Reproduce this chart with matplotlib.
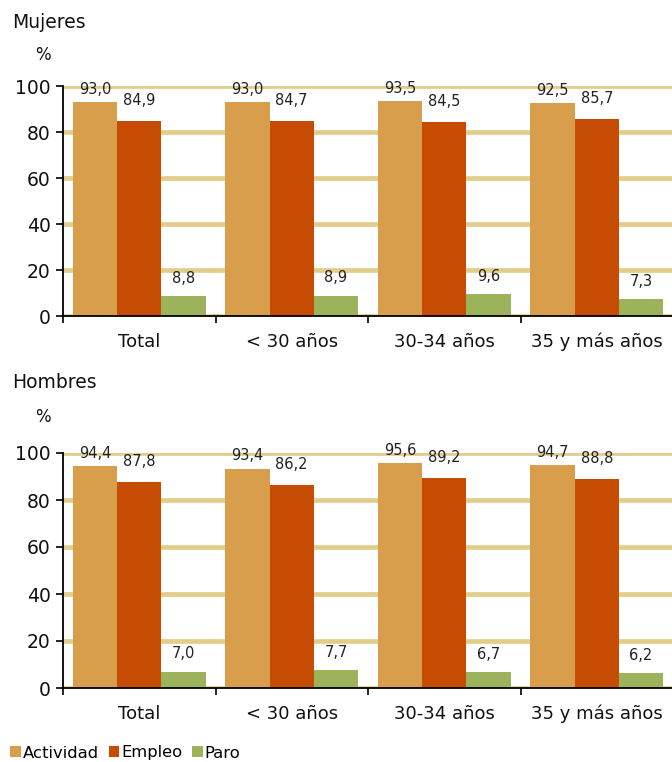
import matplotlib
matplotlib.use("Agg")
import matplotlib.pyplot as plt
import numpy as np

categories = ["Total", "< 30 años", "30-34 años", "35 y más años"]
series = ["Actividad", "Empleo", "Paro"]
mujeres_actividad = [93.0, 93.0, 93.5, 92.5]
mujeres_empleo = [84.9, 84.7, 84.5, 85.7]
mujeres_paro = [8.8, 8.9, 9.6, 7.3]
hombres_actividad = [94.4, 93.4, 95.6, 94.7]
hombres_empleo = [87.8, 86.2, 89.2, 88.8]
hombres_paro = [7.0, 7.7, 6.7, 6.2]
yticks = [0, 20, 40, 60, 80, 100]

colors = ["#D99E4B", "#C64B03", "#9CB25B"]
grid_color = "#E2CD8A"
label_offsets = [5.8, 11.5, 9.4]  # points above bar top (baseline)

plt.rcParams["font.family"] = ["DejaVu Sans"]

fig = plt.figure(figsize=(6.72, 7.62), dpi=100)

W, H = 672, 762
def axrect(left_px, top_px, right_px, bottom_px):
    return [left_px / W, 1 - bottom_px / H, (right_px - left_px) / W, (bottom_px - top_px) / H]

ax1 = fig.add_axes(axrect(63, 86, 673, 316))
ax2 = fig.add_axes(axrect(63, 453, 673, 688))

def fmt(v):
    return f"{v:.1f}".replace(".", ",")

def draw(ax, data):
    x = np.arange(len(categories))
    w = 0.29
    for i, (vals, c) in enumerate(zip(data, colors)):
        pos = x + (i - 1) * w
        bars = ax.bar(pos, vals, width=w, color=c, zorder=2, label=series[i])
        for b, v in zip(bars, vals):
            ax.annotate(fmt(v), (b.get_x() + b.get_width() / 2, v),
                        xytext=(0, label_offsets[i]), textcoords="offset points",
                        ha="center", va="baseline", fontsize=10.5, color="#222222",
                        annotation_clip=False, zorder=3)
    ax.set_xlim(-0.5, len(categories) - 0.5)
    ax.set_ylim(0, 100)
    ax.set_yticks(yticks)
    ax.set_yticklabels([str(t) for t in yticks], fontsize=13.5, color="#111111")
    for t in yticks:
        ax.axhline(t, color=grid_color, lw=3.4, zorder=1)
    ax.set_xticks(np.arange(-0.5, len(categories), 1.0))
    ax.set_xticklabels([])
    ax.set_xticks(x, minor=True)
    ax.set_xticklabels(categories, minor=True, fontsize=13, color="#111111")
    for lbl in ax.get_xticklabels(minor=True):
        lbl.set_verticalalignment("baseline")
    ax.tick_params(axis="x", which="major", length=5, width=1.2, direction="out")
    ax.tick_params(axis="x", which="minor", length=0, pad=22.5)
    ax.tick_params(axis="y", length=5, width=1.2, direction="out", pad=4)
    for s in ["top", "right"]:
        ax.spines[s].set_visible(False)
    for s in ["left", "bottom"]:
        ax.spines[s].set_linewidth(1.3)
        ax.spines[s].set_zorder(4)

draw(ax1, [mujeres_actividad, mujeres_empleo, mujeres_paro])
draw(ax2, [hombres_actividad, hombres_empleo, hombres_paro])

fig.text(12 / W, 1 - 22 / H, "Mujeres", fontsize=13.5, va="center", ha="left", color="#111111")
fig.text(43 / W, 1 - 55 / H, "%", fontsize=12, va="center", ha="center", color="#111111")
fig.text(12 / W, 1 - 383 / H, "Hombres", fontsize=13.5, va="center", ha="left", color="#111111")
fig.text(43 / W, 1 - 417 / H, "%", fontsize=12, va="center", ha="center", color="#111111")

handles, labels = ax1.get_legend_handles_labels()
leg = fig.legend(handles, labels, loc="center left", bbox_to_anchor=(10 / W, 1 - 753 / H),
                 ncol=3, frameon=False, fontsize=11.8, handlelength=0.65, handleheight=0.65,
                 handletextpad=0.12, columnspacing=0.6, borderaxespad=0, borderpad=0)

fig.savefig("out.png", dpi=100)
